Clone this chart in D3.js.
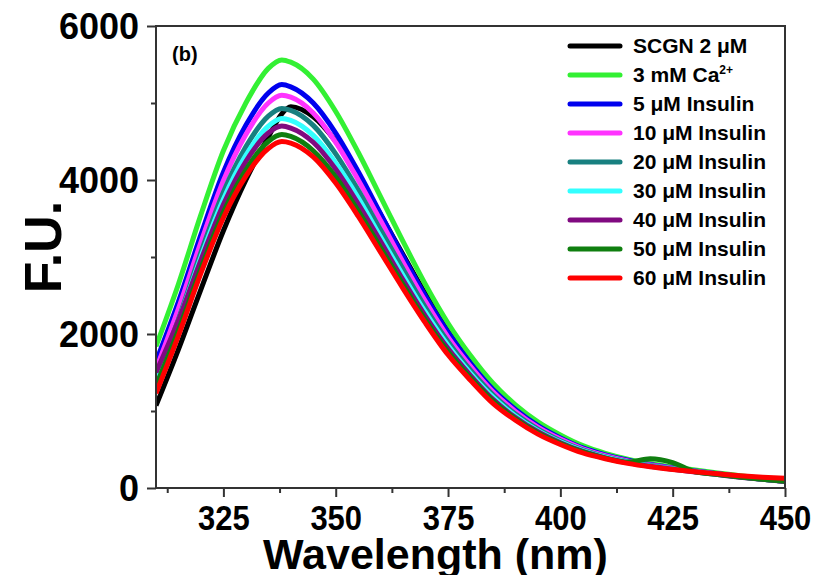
<!DOCTYPE html>
<html lang="en">
<head>
<meta charset="UTF-8">
<title>SCGN fluorescence with insulin</title>
<script src="https://cdn.jsdelivr.net/npm/d3@7"></script>
<style>
  body { margin: 0; background: #fff; }
  text { font-family: "Liberation Sans", Arial, sans-serif; font-weight: bold; fill: #000; }
</style>
</head>
<body>
<div id="chart"></div>
<script>
// emission wavelength (nm)
const wavelengths = [310, 315, 320, 325, 330, 335, 338, 340, 345, 350, 355, 360, 365, 370, 375,
  380, 385, 390, 395, 400, 405, 410, 415, 420, 425, 430, 435, 440, 445, 450];

const scgn    = [1070, 1800, 2580, 3340, 4000, 4560, 4860, 4950, 4820, 4500, 4050, 3550, 3030, 2520, 2060, 1660, 1310, 1040, 820, 650, 520, 425, 355, 300, 258, 218, 180, 145, 115, 88];
const calcium = [1840, 2650, 3550, 4380, 5000, 5450, 5560, 5530, 5310, 4890, 4360, 3780, 3200, 2640, 2140, 1720, 1360, 1080, 860, 690, 550, 450, 375, 320, 275, 235, 195, 160, 125, 95];
const ins5    = [1640, 2420, 3290, 4100, 4710, 5130, 5240, 5210, 5000, 4610, 4110, 3560, 3010, 2490, 2020, 1620, 1280, 1020, 810, 650, 520, 430, 360, 305, 262, 222, 185, 150, 118, 90];
const ins10   = [1540, 2330, 3190, 3990, 4590, 5000, 5100, 5075, 4870, 4490, 4000, 3470, 2930, 2420, 1960, 1580, 1250, 995, 790, 635, 510, 420, 352, 300, 258, 218, 182, 148, 116, 88];
const ins20   = [1430, 2190, 3060, 3840, 4430, 4830, 4930, 4905, 4710, 4340, 3870, 3350, 2840, 2340, 1900, 1530, 1210, 960, 765, 615, 495, 408, 342, 292, 252, 214, 178, 145, 114, 87];
const ins30   = [1440, 2170, 3000, 3750, 4320, 4700, 4800, 4775, 4580, 4220, 3770, 3260, 2760, 2280, 1850, 1490, 1180, 935, 745, 600, 485, 400, 335, 287, 248, 211, 176, 143, 113, 86];
const ins40   = [1500, 2180, 2960, 3680, 4240, 4610, 4700, 4675, 4490, 4140, 3690, 3200, 2700, 2230, 1810, 1460, 1150, 915, 730, 588, 475, 392, 330, 282, 244, 208, 174, 141, 112, 85];
const ins50   = [1330, 2050, 2850, 3580, 4130, 4500, 4590, 4565, 4380, 4040, 3600, 3120, 2640, 2180, 1770, 1430, 1130, 900, 715, 578, 468, 388, 335, 380, 330, 210, 176, 143, 113, 86];
const ins60   = [1230, 1980, 2790, 3510, 4050, 4410, 4500, 4480, 4300, 3960, 3530, 3060, 2590, 2140, 1730, 1400, 1100, 880, 700, 565, 455, 380, 320, 275, 240, 210, 185, 160, 140, 125];

const labels = ["SCGN 2 μM", "3 mM Ca", "5 μM Insulin", "10 μM Insulin", "20 μM Insulin",
  "30 μM Insulin", "40 μM Insulin", "50 μM Insulin", "60 μM Insulin"];
const colors = ["#000000", "#33f033", "#0000ee", "#ff33ff", "#188080", "#33ffff", "#800a80", "#0f7f0f", "#ff0000"];
const allSeries = [scgn, calcium, ins5, ins10, ins20, ins30, ins40, ins50, ins60];

const xMajor = [325, 350, 375, 400, 425, 450];
const xMinor = [312.5, 337.5, 362.5, 387.5, 412.5, 437.5];
const yMajor = [0, 2000, 4000, 6000];
const yMinor = [1000, 3000, 5000];

const w = 821, h = 575;
const plotL = 156, plotR = 785, plotT = 26, plotB = 488;

const svg = d3.select("#chart").append("svg")
  .attr("width", w)
  .attr("height", h);

const xScale = d3.scaleLinear().domain([310, 450]).range([plotL, plotR]);
const yScale = d3.scaleLinear().domain([0, 6000]).range([plotB, plotT]);

svg.append("clipPath").attr("id", "plot")
  .append("rect")
  .attr("x", plotL).attr("y", plotT)
  .attr("width", plotR - plotL).attr("height", plotB - plotT);

const line = d3.line()
  .x((d, i) => xScale(wavelengths[i]))
  .y(d => yScale(d))
  .curve(d3.curveMonotoneX);

svg.append("g")
  .attr("clip-path", "url(#plot)")
  .selectAll("path")
  .data(allSeries)
  .enter()
  .append("path")
  .attr("d", d => line(d))
  .attr("fill", "none")
  .attr("stroke", (d, i) => colors[i])
  .attr("stroke-width", 5)
  .attr("stroke-linejoin", "round");

// axes
const xAxis = svg.append("g")
  .attr("transform", `translate(0, ${plotB})`)
  .call(d3.axisBottom(xScale).tickValues(xMajor).tickSize(9).tickSizeOuter(0).tickPadding(7));
svg.append("g")
  .attr("transform", `translate(0, ${plotB})`)
  .call(d3.axisBottom(xScale).tickValues(xMinor).tickSize(5).tickFormat(""))
  .call(g => g.select(".domain").remove());

const yAxis = svg.append("g")
  .attr("transform", `translate(${plotL}, 0)`)
  .call(d3.axisLeft(yScale).tickValues(yMajor).tickFormat(d3.format("d"))
    .tickSize(9).tickSizeOuter(0).tickPadding(8));
svg.append("g")
  .attr("transform", `translate(${plotL}, 0)`)
  .call(d3.axisLeft(yScale).tickValues(yMinor).tickSize(5).tickFormat(""))
  .call(g => g.select(".domain").remove());

svg.selectAll(".tick line").attr("stroke", "#333").attr("stroke-width", 2);
xAxis.select(".domain").remove();
yAxis.select(".domain").remove();

xAxis.selectAll("text")
  .attr("font-size", 36)
  .attr("font-family", "Liberation Sans, Arial, sans-serif")
  .attr("fill", "#000")
  .attr("transform", "scale(0.86, 1)");
yAxis.selectAll("text")
  .attr("font-size", 36)
  .attr("font-family", "Liberation Sans, Arial, sans-serif")
  .attr("fill", "#000")
  .attr("dy", "0.36em");

// frame
svg.append("rect")
  .attr("x", plotL).attr("y", plotT)
  .attr("width", plotR - plotL).attr("height", plotB - plotT)
  .attr("fill", "none")
  .attr("stroke", "#333")
  .attr("stroke-width", 2);

// titles
svg.append("text")
  .attr("x", (plotL + plotR) / 2 - 35)
  .attr("y", 569)
  .attr("text-anchor", "middle")
  .attr("font-size", 43)
  .text("Wavelength (nm)");

svg.append("text")
  .attr("transform", "translate(61, 247) rotate(-90)")
  .attr("text-anchor", "middle")
  .attr("font-size", 52)
  .text("F.U.");

svg.append("text")
  .attr("x", 172).attr("y", 61)
  .attr("font-size", 20)
  .text("(b)");

// legend
const legend = svg.append("g").selectAll("g")
  .data(labels)
  .enter()
  .append("g")
  .attr("transform", (d, i) => `translate(568, ${46 + i * 29})`);

legend.append("line")
  .attr("x1", 2).attr("x2", 52)
  .attr("stroke", (d, i) => colors[i])
  .attr("stroke-width", 5)
  .attr("stroke-linecap", "round");

const legendText = legend.append("text")
  .attr("x", 65).attr("y", 7)
  .attr("font-size", 21);
legendText.append("tspan").text(d => d);
legendText.filter((d, i) => i === 1)
  .append("tspan")
  .attr("dy", -8)
  .attr("font-size", 12)
  .text("2+");
</script>
</body>
</html>
